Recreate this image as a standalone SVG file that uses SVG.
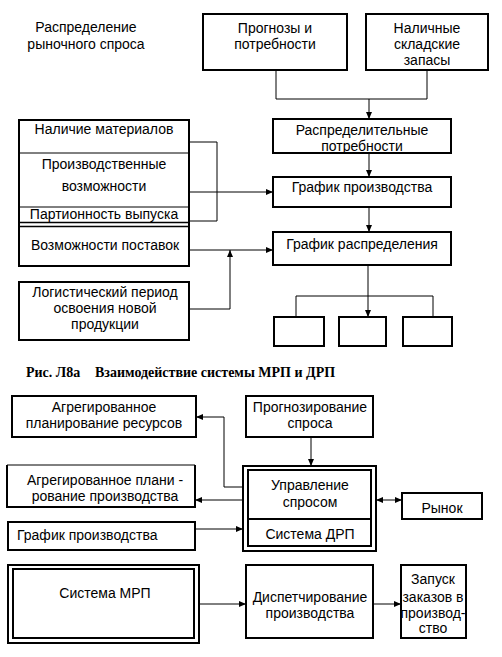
<svg xmlns="http://www.w3.org/2000/svg" width="502" height="657" viewBox="0 0 502 657">
<defs>
<marker id="ah" markerUnits="userSpaceOnUse" markerWidth="8" markerHeight="8" viewBox="0 0 8 8" refX="7" refY="4" orient="auto-start-reverse">
<path d="M0,1 L7,4 L0,7 Z" fill="#000"/>
</marker>
</defs>
<style>
text{font-family:"Liberation Sans",Arial,sans-serif;font-size:14px;fill:#000;text-anchor:middle}
.cap{font-family:"Liberation Serif","Times New Roman",serif;font-weight:bold;font-size:14px;text-anchor:start}
.box{fill:#fff;stroke:#000;stroke-width:2}
.thin{fill:none;stroke:#000;stroke-width:1}
.c{fill:none;stroke:#000;stroke-width:1}
.a{marker-end:url(#ah)}
.aa{marker-end:url(#ah);marker-start:url(#ah)}
</style>
<rect width="502" height="657" fill="#fff"/>

<g id="connectors">
<polyline class="c" points="276,70 276,99 427,99 427,70"/>
<line class="c a" x1="369" y1="99" x2="369" y2="119"/>
<line class="c a" x1="369" y1="153" x2="369" y2="177"/>
<line class="c a" x1="369" y1="207" x2="369" y2="232"/>
<line class="c a" x1="368" y1="265" x2="368" y2="317"/>
<polyline class="c" points="296,317 296,296 433,296 433,317"/>
<polyline class="c" points="189,142 217,142 217,221 189,221"/>
<line class="c a" x1="189" y1="192" x2="273" y2="192"/>
<line class="c a" x1="189" y1="250" x2="273" y2="250"/>
<polyline class="c a" points="189,309 230,309 230,250"/>
<line class="c a" x1="311" y1="437" x2="311" y2="466"/>
<polyline class="c a" points="243,487 224,487 224,417 196,417"/>
<line class="c a" x1="243" y1="500" x2="195" y2="500"/>
<line class="c aa" x1="376" y1="500" x2="402" y2="500"/>
<line class="c a" x1="195" y1="529" x2="243" y2="529"/>
<line class="c a" x1="199" y1="604" x2="246" y2="604"/>
<line class="c a" x1="373" y1="604" x2="401" y2="604"/>
</g>

<g id="label-market-demand">
<text x="86" y="32">Распределение</text>
<text x="86" y="49">рыночного спроса</text>
</g>

<g id="forecasts">
<rect class="box" x="203" y="14" width="144" height="56"/>
<text x="275" y="33">Прогнозы и</text>
<text x="275" y="49">потребности</text>
</g>

<g id="stock">
<rect class="box" x="366" y="14" width="122" height="56"/>
<text x="427" y="33">Наличные</text>
<text x="427" y="49">складские</text>
<text x="427" y="65">запасы</text>
</g>

<g id="dist-needs">
<rect class="box" x="273" y="119" width="178" height="34"/>
<text x="362" y="135">Распределительные</text>
<text x="362" y="151">потребности</text>
</g>

<g id="prod-schedule">
<rect class="box" x="273" y="177" width="178" height="30"/>
<text x="362" y="192">График производства</text>
</g>

<g id="dist-schedule">
<rect class="box" x="273" y="232" width="178" height="33"/>
<text x="362" y="249">График распределения</text>
</g>

<g id="out1"><rect class="box" x="274" y="317" width="50" height="29"/></g>
<g id="out2"><rect class="box" x="339" y="317" width="47" height="29"/></g>
<g id="out3"><rect class="box" x="403" y="317" width="49" height="29"/></g>

<g id="resources">
<rect class="box" x="19" y="120" width="170" height="146"/>
<line class="thin" x1="19" y1="153" x2="189" y2="153"/>
<line class="thin" x1="19" y1="207" x2="189" y2="207"/>
<line x1="19" y1="222.5" x2="189" y2="222.5" stroke="#000" stroke-width="1.5"/>
<line x1="19" y1="226.5" x2="189" y2="226.5" stroke="#000" stroke-width="1.5"/>
<text x="104" y="134">Наличие материалов</text>
<text x="104" y="169">Производственные</text>
<text x="104" y="191">возможности</text>
<text x="104" y="219">Партионность выпуска</text>
<text x="105" y="250">Возможности поставок</text>
</g>

<g id="lead-time">
<rect class="box" x="19" y="282" width="170" height="58"/>
<text x="105" y="297">Логистический период</text>
<text x="105" y="313">освоения новой</text>
<text x="105" y="329">продукции</text>
</g>

<g id="caption">
<text class="cap" x="26" y="377">Рис. Л8а</text>
<text class="cap" x="95" y="377">Взаимодействие системы МРП и ДРП</text>
</g>

<g id="agg-resources">
<rect class="box" x="12" y="396" width="184" height="41"/>
<text x="104" y="412">Агрегированное</text>
<text x="104" y="428">планирование ресурсов</text>
</g>

<g id="forecasting">
<rect class="box" x="246" y="396" width="127" height="41"/>
<text x="310" y="412">Прогнозирование</text>
<text x="310" y="428">спроса</text>
</g>

<g id="agg-production">
<path d="M7,465 L7,507 L195,507 L195,465" fill="none" stroke="#000" stroke-width="2"/>
<line class="thin" x1="7" y1="465" x2="195" y2="465"/>
<text x="105" y="485">Агрегированное плани -</text>
<text x="105" y="501">рование производства</text>
</g>

<g id="demand-mgmt">
<rect class="box" x="243" y="466" width="133" height="85"/>
<rect class="box" x="248" y="470" width="123" height="76"/>
<line class="box" x1="248" y1="519" x2="371" y2="519"/>
<text x="310" y="490">Управление</text>
<text x="310" y="507">спросом</text>
<text x="310" y="539">Система ДРП</text>
</g>

<g id="market">
<rect class="box" x="402" y="493" width="80" height="26"/>
<text x="442" y="513">Рынок</text>
</g>

<g id="prod-schedule-2">
<rect class="box" x="8" y="522" width="187" height="28"/>
<text x="17" y="540" style="text-anchor:start">График производства</text>
</g>

<g id="mrp">
<rect class="box" x="8" y="565" width="191" height="78"/>
<rect class="box" x="13" y="569" width="181" height="69"/>
<text x="105" y="598">Система МРП</text>
</g>

<g id="dispatch">
<rect class="box" x="246" y="565" width="127" height="73"/>
<text x="310" y="602">Диспетчирование</text>
<text x="310" y="618">производства</text>
</g>

<g id="release">
<rect class="box" x="401" y="565" width="65" height="73"/>
<text x="433" y="584">Запуск</text>
<text x="433" y="602">заказов в</text>
<text x="433" y="618">производ-</text>
<text x="433" y="633">ство</text>
</g>
</svg>
